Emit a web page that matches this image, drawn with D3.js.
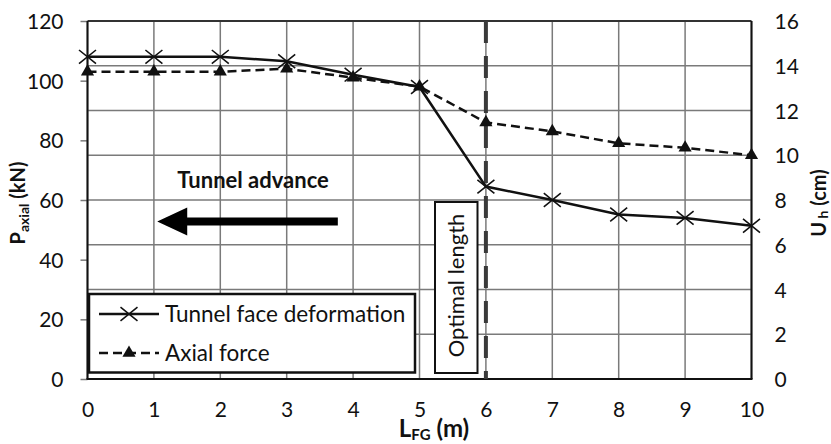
<!DOCTYPE html>
<html>
<head>
<meta charset="utf-8">
<script src="https://cdn.jsdelivr.net/npm/d3@7/dist/d3.min.js"></script>
<style>
  body { margin: 0; background: #fff; }
  svg { display: block; }
  text { font-family: Lato, "Open Sans", sans-serif; fill: #111; }
</style>
</head>
<body>
<svg id="chart" width="831" height="444"></svg>
<script>
// Face-support length study: tunnel face deformation and axial force vs L_FG
const lengths = [0, 1, 2, 3, 4, 5, 6, 7, 8, 9, 10];               // L_FG (m)
const faceDeformation = [14.4, 14.4, 14.4, 14.2, 13.6, 13.05, 8.6, 8.0, 7.35, 7.2, 6.85]; // U_h (cm)
const axialForce = [103, 103, 103, 104, 101, 98, 86, 83, 79, 77.5, 75];               // P_axial (kN)
const leftTicks = [0, 20, 40, 60, 80, 100, 120];
const rightTicks = [0, 2, 4, 6, 8, 10, 12, 14, 16];
const xTicks = [0, 1, 2, 3, 4, 5, 6, 7, 8, 9, 10];
const optimalLength = 6;
const seriesNames = ["Tunnel face deformation", "Axial force"];

const svg = d3.select("#chart");
const plot = { left: 87.5, right: 751.5, top: 21, bottom: 379 };

const x = d3.scaleLinear().domain([0, 10]).range([plot.left, plot.right]);
const yL = d3.scaleLinear().domain([0, 120]).range([plot.bottom, plot.top]);
const yR = d3.scaleLinear().domain([0, 16]).range([plot.bottom, plot.top]);

const gridColor = "#7a7a7a";
const tickFont = 21;

// grid
const grid = svg.append("g");
grid.selectAll("line.v").data(xTicks).join("line")
  .attr("x1", d => x(d)).attr("x2", d => x(d))
  .attr("y1", plot.top).attr("y2", plot.bottom)
  .attr("stroke", gridColor).attr("stroke-width", 1.5);
grid.selectAll("line.h").data(rightTicks).join("line")
  .attr("x1", plot.left).attr("x2", plot.right)
  .attr("y1", d => yR(d)).attr("y2", d => yR(d))
  .attr("stroke", d => d === 16 ? "#333" : gridColor)
  .attr("stroke-width", d => d === 16 ? 2 : 1.5);

// axes
const axL = svg.append("g").attr("transform", `translate(${plot.left},0)`)
  .call(d3.axisLeft(yL).tickValues(leftTicks).tickSize(7).tickPadding(17));
axL.select(".domain").remove();
axL.selectAll(".tick line").attr("stroke", gridColor).attr("stroke-width", 1.5);
axL.selectAll(".tick text").attr("font-size", tickFont).attr("dy", "0.36em")
  .style("font-family", "Lato, sans-serif");

const axR = svg.append("g").attr("transform", `translate(${plot.right},0)`)
  .call(d3.axisRight(yR).tickValues(rightTicks).tickSize(0).tickPadding(23));
axR.select(".domain").remove();
axR.selectAll(".tick text").attr("font-size", tickFont).attr("dy", "0.36em")
  .style("font-family", "Lato, sans-serif");

const axB = svg.append("g").attr("transform", `translate(0,${plot.bottom})`)
  .call(d3.axisBottom(x).tickValues(xTicks).tickFormat(d3.format("d")).tickSize(0).tickPadding(23));
axB.select(".domain").remove();
axB.selectAll(".tick text").attr("font-size", tickFont)
  .style("font-family", "Lato, sans-serif");

// axis lines
svg.append("line").attr("x1", plot.left).attr("x2", plot.left)
  .attr("y1", plot.top).attr("y2", plot.bottom).attr("stroke", "#111").attr("stroke-width", 2);
svg.append("line").attr("x1", plot.right).attr("x2", plot.right)
  .attr("y1", plot.top).attr("y2", plot.bottom).attr("stroke", "#111").attr("stroke-width", 2);
svg.append("line").attr("x1", plot.left - 1).attr("x2", plot.right + 1)
  .attr("y1", plot.bottom).attr("y2", plot.bottom).attr("stroke", "#111").attr("stroke-width", 2);

// axis titles
const tL = svg.append("text")
  .attr("transform", `translate(25,203) rotate(-90)`)
  .attr("text-anchor", "middle").attr("font-weight", "bold").attr("font-size", 20);
tL.append("tspan").text("P");
tL.append("tspan").attr("font-size", 14).attr("dy", 4).text("axial");
tL.append("tspan").attr("dy", -4).text(" (kN)");

const tR = svg.append("text")
  .attr("transform", `translate(826,203) rotate(-90)`)
  .attr("text-anchor", "middle").attr("font-weight", "bold").attr("font-size", 20);
tR.append("tspan").text("U");
tR.append("tspan").attr("font-size", 14).attr("dy", 2).text(" h");
tR.append("tspan").attr("dy", -2).text(" (cm)");

const tB = svg.append("text")
  .attr("x", 434).attr("y", 437)
  .attr("text-anchor", "middle").attr("font-weight", "bold").attr("font-size", 24);
tB.append("tspan").text("L");
tB.append("tspan").attr("font-size", 15).attr("dy", 3).text("FG");
tB.append("tspan").attr("dy", -3).text(" (m)");

// optimal length marker
svg.append("line")
  .attr("x1", x(optimalLength)).attr("x2", x(optimalLength))
  .attr("y1", plot.top).attr("y2", plot.bottom)
  .attr("stroke", "#3a3a3a").attr("stroke-width", 4)
  .attr("stroke-dasharray", "22,13");

// series
const ptsDef = lengths.map((l, i) => [x(l), yR(faceDeformation[i])]);
const ptsAx = lengths.map((l, i) => [x(l), yL(axialForce[i])]);

svg.append("path").attr("d", d3.line()(ptsAx))
  .attr("fill", "none").attr("stroke", "#111").attr("stroke-width", 2.5)
  .attr("stroke-dasharray", "9,5");
svg.append("path").attr("d", d3.line()(ptsDef))
  .attr("fill", "none").attr("stroke", "#111").attr("stroke-width", 2.5);

const tri = d3.symbol().type(d3.symbolTriangle).size(75);
svg.append("g").selectAll("path").data(ptsAx).join("path")
  .attr("transform", d => `translate(${d[0]},${d[1]})`)
  .attr("d", tri).attr("fill", "#111");

const xMark = s => `M${-s},${-s * 0.8}L${s},${s * 0.8}M${-s},${s * 0.8}L${s},${-s * 0.8}`;
svg.append("g").selectAll("path").data(ptsDef).join("path")
  .attr("transform", d => `translate(${d[0]},${d[1]})`)
  .attr("d", xMark(8.5)).attr("stroke", "#111").attr("stroke-width", 1.6).attr("fill", "none");

// "Tunnel advance" annotation
svg.append("text").attr("x", 253).attr("y", 188)
  .attr("text-anchor", "middle").attr("font-weight", "bold").attr("font-size", 22)
  .text("Tunnel advance");
const arrowTip = x(1.05), arrowTail = x(3.77), arrowY = yL(52.8);
svg.append("path")
  .attr("d", `M${arrowTip},${arrowY} L${arrowTip + 30},${arrowY - 14} L${arrowTip + 30},${arrowY - 4}
              L${arrowTail},${arrowY - 4} L${arrowTail},${arrowY + 4} L${arrowTip + 30},${arrowY + 4}
              L${arrowTip + 30},${arrowY + 14} Z`)
  .attr("fill", "#000");

// "Optimal length" label box
svg.append("rect").attr("x", 435).attr("y", 202).attr("width", 42.5).attr("height", 171)
  .attr("fill", "#fff").attr("stroke", "#111").attr("stroke-width", 2);
svg.append("text")
  .attr("transform", `translate(464,${202 + 171 / 2 - 2}) rotate(-90)`)
  .attr("text-anchor", "middle").attr("font-size", 22)
  .text("Optimal length");

// legend
const lg = svg.append("g");
lg.append("rect").attr("x", 89).attr("y", 294).attr("width", 326).attr("height", 78.5)
  .attr("fill", "#fff").attr("stroke", "#111").attr("stroke-width", 2.5);
const ly = [314, 353];
lg.append("line").attr("x1", 99).attr("x2", 159).attr("y1", ly[0]).attr("y2", ly[0])
  .attr("stroke", "#111").attr("stroke-width", 2.5);
lg.append("path").attr("transform", `translate(129,${ly[0]})`).attr("d", xMark(8.5))
  .attr("stroke", "#111").attr("stroke-width", 1.6);
lg.append("line").attr("x1", 99).attr("x2", 159).attr("y1", ly[1]).attr("y2", ly[1])
  .attr("stroke", "#111").attr("stroke-width", 2.5).attr("stroke-dasharray", "9,5");
lg.append("path").attr("transform", `translate(129,${ly[1]})`).attr("d", tri).attr("fill", "#111");
lg.selectAll("text.lab").data(seriesNames).join("text")
  .attr("x", 165).attr("y", (d, i) => ly[i]).attr("dy", "0.36em")
  .attr("font-size", 22.5).text(d => d);
</script>
</body>
</html>
